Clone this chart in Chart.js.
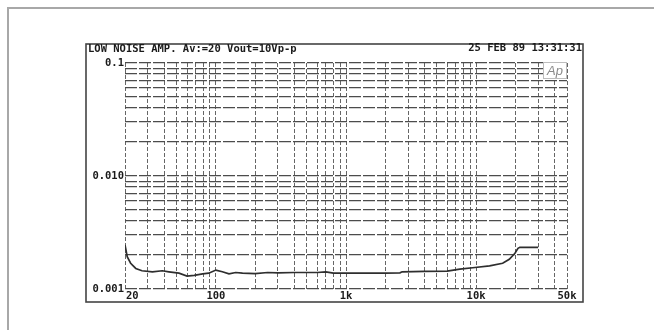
<!DOCTYPE html>
<html>
<head>
<meta charset="utf-8">
<script src="https://cdn.jsdelivr.net/npm/chart.js@4.4.1/dist/chart.umd.min.js"></script>
<style>
  html, body { margin: 0; padding: 0; background: #fff; overflow: hidden; }
  #sheet { position: absolute; left: 7px; top: 7px; width: 760px; height: 420px; border: 2px solid #a8a8a8; }
  #wrap { position: absolute; left: 0; top: 0; width: 654px; height: 330px; }
</style>
</head>
<body>
<div id="sheet"></div>
<div id="wrap"><canvas id="c" width="654" height="330"></canvas></div>
<script>
// THD+N sweep of the low-noise amplifier (frequency in Hz, ratio)
const freqHz = [20, 20.8, 22.1, 24.2, 27, 32.5, 38.7, 43.5, 52, 60, 68, 79, 88, 100, 112, 126, 142, 160,
                200, 250, 300, 400, 500, 600, 700, 800, 1000, 1500, 2000, 2600, 2700, 4000, 6000,
                7500, 9800, 12700, 16000, 18000, 19900, 21000, 21700, 30000];
const thdN   = [0.00245, 0.00193, 0.00169, 0.00152, 0.00145, 0.00142, 0.00145, 0.00142, 0.00138, 0.0013,
                0.00132, 0.00136, 0.00138, 0.00147, 0.00142, 0.00136, 0.0014, 0.00138,
                0.00137, 0.0014, 0.00139, 0.0014, 0.0014, 0.0014, 0.00142, 0.00138, 0.00138, 0.00138,
                0.00138, 0.00139, 0.00142, 0.00143, 0.00144,
                0.0015, 0.00155, 0.0016, 0.00169, 0.00183, 0.00207, 0.00229, 0.00234, 0.00234];

// Axis labels
const xTickValues = [20, 100, 1000, 10000, 50000];
const xTickLabels = ['20', '100', '1k', '10k', '50k'];
const yTickValues = [0.1, 0.01, 0.001];
const yTickLabels = ['0.1', '0.010', '0.001'];

const titleText = 'LOW NOISE AMP. Av:=20 Vout=10Vp-p';
const dateText = '25 FEB 89 13:31:31';

// Log-paper grid: 1..9 within each decade
function decadeGrid(min, max) {
  const out = [];
  for (let d = Math.pow(10, Math.floor(Math.log10(min))); d <= max; d *= 10) {
    for (let m = 1; m <= 9; m++) {
      const v = +(m * d).toPrecision(6);
      if (v >= min - 1e-12 && v <= max + 1e-12) out.push(v);
    }
  }
  return out;
}
const xGrid = decadeGrid(20, 50000);
const yGrid = decadeGrid(0.001, 0.1);

const MONO = 'bold 10.5px "DejaVu Sans Mono", "Liberation Mono", monospace';

const decorations = {
  id: 'decorations',
  afterDraw(chart) {
    const ctx = chart.ctx;
    const xs = chart.scales.x, ys = chart.scales.y;
    ctx.save();
    // outer frame of the plot sheet
    ctx.strokeStyle = '#444';
    ctx.lineWidth = 1.6;
    ctx.strokeRect(86, 44, 497, 258);

    ctx.fillStyle = '#1a1a1a';
    ctx.font = MONO;
    ctx.textBaseline = 'middle';
    ctx.textAlign = 'left';
    ctx.fillText(titleText, 88, 49);
    ctx.textAlign = 'right';
    ctx.fillText(dateText, 582, 48);

    // y axis labels
    ctx.textAlign = 'right';
    yTickValues.forEach((v, i) => {
      ctx.fillText(yTickLabels[i], xs.left - 1, ys.getPixelForValue(v));
    });
    // x axis labels
    xTickValues.forEach((v, i) => {
      const px = xs.getPixelForValue(v);
      ctx.textAlign = i === 0 ? 'left' : 'center';
      ctx.fillText(xTickLabels[i], i === 0 ? px + 1 : px, ys.bottom + 7);
    });

    // instrument badge
    const bx = xs.right - 24, by = ys.top - 1;
    ctx.fillStyle = '#fff';
    ctx.fillRect(bx, by, 24, 17);
    ctx.strokeStyle = '#bdbdbd';
    ctx.lineWidth = 1;
    ctx.strokeRect(bx + 0.5, by + 0.5, 23, 16);
    ctx.fillStyle = '#8a8a8a';
    ctx.font = 'italic 13px "Liberation Sans", Arial, sans-serif';
    ctx.textAlign = 'center';
    ctx.fillText('Ap', bx + 12, by + 9);
    ctx.restore();
  }
};

new Chart(document.getElementById('c'), {
  type: 'line',
  data: {
    datasets: [{
      data: freqHz.map((f, i) => ({ x: f, y: thdN[i] })),
      borderColor: '#2e2e2e',
      borderWidth: 1.7,
      pointRadius: 0,
      tension: 0,
      fill: false
    }]
  },
  options: {
    responsive: false,
    animation: false,
    devicePixelRatio: 1,
    layout: { padding: { left: 125, right: 87, top: 63, bottom: 41 } },
    plugins: { legend: { display: false }, tooltip: { enabled: false } },
    scales: {
      x: {
        type: 'logarithmic', min: 20, max: 50000,
        afterBuildTicks: s => { s.ticks = xGrid.map(v => ({ value: v })); },
        ticks: { display: false },
        grid: { color: '#666', lineWidth: 1, drawTicks: false },
        border: { display: false, dash: [4, 2] }
      },
      y: {
        type: 'logarithmic', min: 0.001, max: 0.1,
        afterBuildTicks: s => { s.ticks = yGrid.map(v => ({ value: v })); },
        ticks: { display: false },
        grid: { color: '#4c4c4c', lineWidth: 1.2, drawTicks: false },
        border: { display: false, dash: [12, 2] }
      }
    }
  },
  plugins: [decorations]
});
</script>
</body>
</html>
